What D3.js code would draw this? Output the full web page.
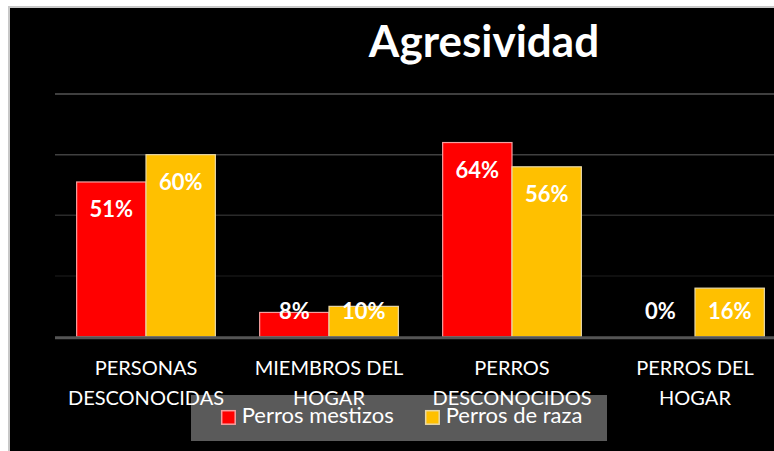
<!DOCTYPE html>
<html>
<head>
<meta charset="utf-8">
<script src="https://cdn.jsdelivr.net/npm/d3@7"></script>
<style>
  body { margin: 0; background: #fff; }
  svg { display: block; }
  text { font-family: Lato, "Open Sans", sans-serif; }
</style>
</head>
<body>
<svg id="chart"></svg>
<script>
// data
var categories = [["PERSONAS", "DESCONOCIDAS"], ["MIEMBROS DEL", "HOGAR"], ["PERROS", "DESCONOCIDOS"], ["PERROS DEL", "HOGAR"]];
var mestizos = [51, 8, 64, 0];
var raza = [60, 10, 56, 16];
var seriesNames = ["Perros mestizos", "Perros de raza"];
var gridTicks = [20, 40, 60, 80];

var W = 774, H = 451;
var svg = d3.select("#chart").attr("width", W).attr("height", H);

// frame
svg.append("rect").attr("x", 9).attr("y", 7).attr("width", W).attr("height", H)
    .attr("fill", "#000").attr("stroke", "#c8c8c8").attr("stroke-width", 2);

// scales
var xScale = d3.scaleBand()
    .domain(d3.range(categories.length))
    .range([54.5, 786.5])
    .paddingInner(0.242)
    .paddingOuter(0.121);

var yScale = d3.scaleLinear().domain([0, 80]).range([336.7, 94]);

var xInner = d3.scaleBand()
    .domain([0, 1])
    .range([0, xScale.bandwidth()]);

var colors = ["#ff0000", "#ffc000"];
var strokes = ["#f4a0a0", "#e8d8a8"];

// gridlines
var gridColor = d3.scaleLinear().domain([20, 80]).range(["#151515", "#555555"]);
svg.append("g").selectAll("line")
    .data(gridTicks)
    .enter()
    .append("line")
    .attr("x1", 55).attr("x2", W)
    .attr("y1", d => yScale(d)).attr("y2", d => yScale(d))
    .attr("stroke", d => gridColor(d))
    .attr("stroke-width", 1.5);

// bars
var rows = categories.map((c, i) => ({ i: i, values: [mestizos[i], raza[i]] }));

var groups = svg.selectAll(".grp")
    .data(rows)
    .enter()
    .append("g")
    .attr("class", "grp")
    .attr("transform", d => "translate(" + xScale(d.i) + ",0)");

groups.selectAll("rect")
    .data(d => d.values.map((v, s) => ({ v: v, s: s })).filter(d => d.v > 0))
    .enter()
    .append("rect")
    .attr("x", d => xInner(d.s))
    .attr("y", d => yScale(d.v))
    .attr("width", xInner.bandwidth())
    .attr("height", d => yScale(0) - yScale(d.v))
    .attr("fill", d => colors[d.s])
    .attr("stroke", d => strokes[d.s])
    .attr("stroke-width", 1.2);

// axis baseline
svg.append("line")
    .attr("x1", 55).attr("x2", W)
    .attr("y1", yScale(0) + 1).attr("y2", yScale(0) + 1)
    .attr("stroke", "#555")
    .attr("stroke-width", 3);

// value labels
groups.selectAll("text.val")
    .data(d => d.values.map((v, s) => ({ v: v, s: s })))
    .enter()
    .append("text")
    .attr("class", "val")
    .attr("x", d => xInner(d.s) + xInner.bandwidth() / 2)
    .attr("y", d => Math.min(yScale(d.v) + 35.5, yScale(0) - 17.5))
    .attr("text-anchor", "middle")
    .attr("fill", "#fff")
    .attr("font-weight", "bold")
    .attr("font-size", "22px")
    .text(d => d.v + "%");

// legend box (under the axis labels)
var legend = svg.append("g");
legend.append("rect")
    .attr("x", 191).attr("y", 395)
    .attr("width", 416).attr("height", 46)
    .attr("fill", "#5a5a5a");

var legX = [221.7, 425.7];
seriesNames.forEach(function (name, s) {
    legend.append("rect")
        .attr("x", legX[s]).attr("y", 410.7)
        .attr("width", 13.5).attr("height", 13.5)
        .attr("fill", colors[s])
        .attr("stroke", strokes[s])
        .attr("stroke-width", 1.5);
    legend.append("text")
        .attr("x", legX[s] + 20).attr("y", 422.5)
        .attr("fill", "#fff")
        .attr("font-size", "22px")
        .text(name);
});

// category labels
var cats = svg.selectAll(".cat")
    .data(categories)
    .enter()
    .append("text")
    .attr("class", "cat")
    .attr("text-anchor", "middle")
    .attr("fill", "#fff")
    .attr("font-size", "20px");

cats.selectAll("tspan")
    .data((d, i) => d.map(t => ({ t: t, i: i })))
    .enter()
    .append("tspan")
    .attr("x", d => xScale(d.i) + xScale.bandwidth() / 2)
    .attr("y", (d, j) => 375 + j * 29.5)
    .text(d => d.t);

// title
svg.append("text")
    .attr("x", 484).attr("y", 56.7)
    .attr("text-anchor", "middle")
    .attr("fill", "#fff")
    .attr("font-weight", "bold")
    .attr("font-size", "44px")
    .text("Agresividad");
</script>
</body>
</html>
